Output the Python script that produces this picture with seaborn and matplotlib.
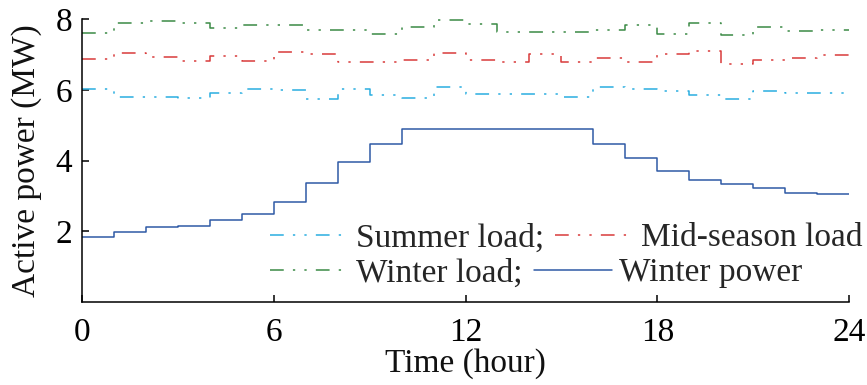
import numpy as np
import pandas as pd
import matplotlib
matplotlib.use("Agg")
import matplotlib.pyplot as plt
import seaborn as sns

hours = list(range(25))
summer_load = [6.02, 5.80, 5.80, 5.76, 5.91, 6.03, 5.99, 5.73, 6.03, 5.85, 5.77, 6.08,
               5.87, 5.87, 5.87, 5.80, 6.07, 6.01, 5.97, 5.84, 5.73, 5.97, 5.91, 5.91]
mid_load = [6.87, 7.03, 6.93, 6.82, 6.96, 6.80, 7.07, 7.01, 6.79, 6.79, 6.85, 7.03,
            6.85, 6.79, 7.02, 6.78, 6.91, 6.78, 7.00, 7.10, 6.73, 6.85, 6.91, 6.97]
winter_load = [7.61, 7.88, 7.94, 7.88, 7.75, 7.82, 7.82, 7.70, 7.70, 7.57, 7.78, 7.97,
               7.87, 7.63, 7.63, 7.63, 7.68, 7.82, 7.59, 7.89, 7.56, 7.77, 7.67, 7.69]
winter_power = [1.85, 1.99, 2.11, 2.16, 2.31, 2.49, 2.83, 3.35, 3.95, 4.47, 4.89, 4.89,
                4.89, 4.89, 4.89, 4.89, 4.48, 4.08, 3.69, 3.44, 3.33, 3.22, 3.09, 3.06]
labels = ["Summer load;", "Mid-season load", "Winter load;", "Winter power"]
xticks = [0, 6, 12, 18, 24]
yticks = [2, 4, 6, 8]

sns.set_theme(style="ticks")
plt.rcParams['font.family'] = ['Liberation Serif', 'DejaVu Serif']

fig = plt.figure(figsize=(8.67, 3.85), dpi=100)
ax = fig.add_axes([82/867, 1-302/385, (849-82)/867, (302-19)/385])

def ext(v):
    return list(v) + [v[-1]]

dd = (0, (9, 6, 1.5, 6, 1.5, 6))
series = [
    (summer_load, "#2aaee0", dd),
    (mid_load, "#d93b3b", dd),
    (winter_load, "#3b8a45", dd),
    (winter_power, "#2f5aa6", "-"),
]
handles = []
for (vals, col, ls), lab in zip(series, labels):
    df = pd.DataFrame({"x": hours, "y": ext(vals)})
    sns.lineplot(data=df, x="x", y="y", ax=ax, color=col, linewidth=1.1,
                 drawstyle="steps-post", linestyle=ls, label=lab, legend=False)
    handles.append(ax.lines[-1])

fs = 24
ax.set_xlim(0, 24)
ax.set_ylim(0, 8)
ax.set_xticks(xticks)
ax.set_yticks(yticks)
ax.tick_params(direction="in", length=5, width=1.1, labelsize=fs, colors="black")
ax.tick_params(axis="x", pad=11)
ax.tick_params(axis="y", pad=7)
for s in ["top", "right"]:
    ax.spines[s].set_visible(False)
for s in ["left", "bottom"]:
    ax.spines[s].set_linewidth(1.1)
    ax.spines[s].set_color("black")
ax.set_xlabel("Time (hour)", fontsize=fs, labelpad=0, color="#111111")
ax.set_ylabel("Active power (MW)", fontsize=fs, labelpad=10, color="#111111")

common = dict(frameon=False, ncol=2, fontsize=fs, handlelength=2.35, handletextpad=0.22,
              columnspacing=0.35, borderpad=0, borderaxespad=0, loc="center left")
leg1 = ax.legend(handles[:2], labels[:2], bbox_to_anchor=(0.245, 0.226), **common)
ax.add_artist(leg1)
leg2 = ax.legend([handles[2], handles[3]], [labels[2], labels[3]],
                 bbox_to_anchor=(0.245, 0.102), **common)

fig.savefig("out.png", dpi=100)
